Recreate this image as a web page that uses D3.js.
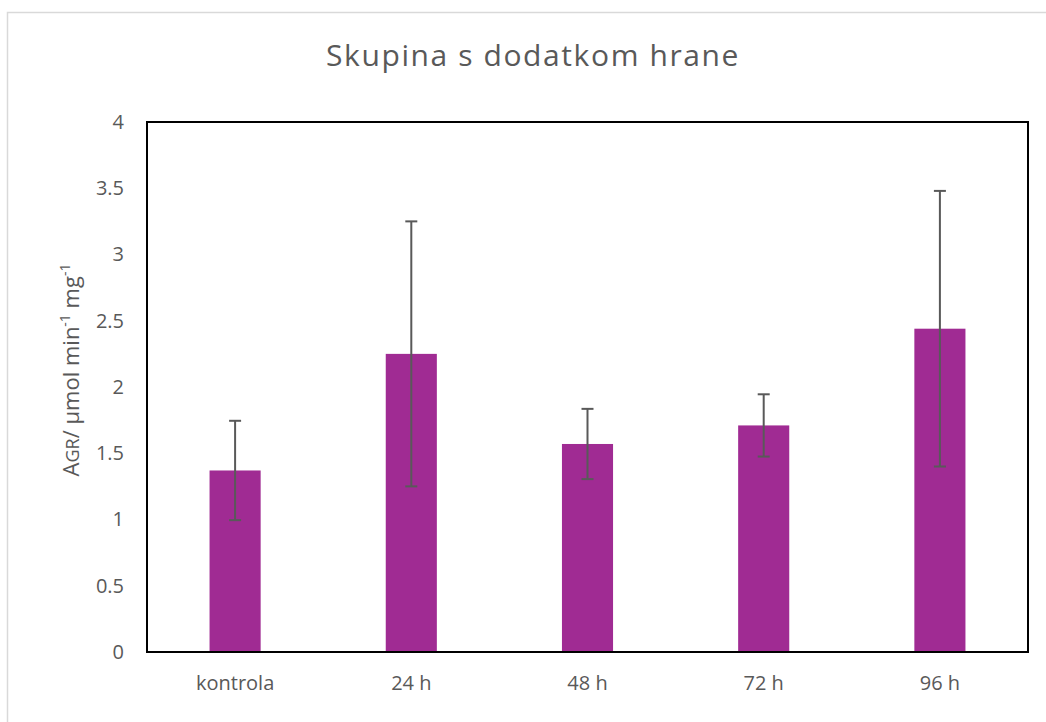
<!DOCTYPE html>
<html>
<head>
<meta charset="utf-8">
<script src="https://cdn.jsdelivr.net/npm/d3@7"></script>
<style>
  body { margin: 0; background: #fff; }
  text { font-family: "Open Sans", "Liberation Sans", sans-serif; fill: #595959; }
</style>
</head>
<body>
<svg id="chart" width="1046" height="722"></svg>
<script>
// values
var categories = ["kontrola", "24 h", "48 h", "72 h", "96 h"];
var means = [1.37, 2.25, 1.57, 1.71, 2.44];
var errors = [0.375, 1.0, 0.265, 0.235, 1.04];
var yTicks = [0, 0.5, 1, 1.5, 2, 2.5, 3, 3.5, 4];

var svg = d3.select("#chart");

// plot box
var plotLeft = 147, plotRight = 1028, plotTop = 122, plotBottom = 652;

var x = d3.scaleBand()
  .domain(categories)
  .range([plotLeft, plotRight])
  .paddingInner(0.71)
  .paddingOuter(0.355);

var y = d3.scaleLinear()
  .domain([0, 4])
  .range([plotBottom, plotTop]);

// outer chart frame
svg.append("rect")
  .attr("x", 7.5).attr("y", 12.5)
  .attr("width", 1100).attr("height", 800)
  .style("fill", "none")
  .style("stroke", "#d9d9d9")
  .style("stroke-width", 1.5);

// title
svg.append("text")
  .attr("x", 533).attr("y", 66)
  .attr("text-anchor", "middle")
  .style("font-size", "30px")
  .style("letter-spacing", "1.6px")
  .text("Skupina s dodatkom hrane");

// bars
svg.selectAll(".bar").data(means)
  .enter().append("rect")
  .attr("class", "bar")
  .attr("x", function(d, i) { return x(categories[i]); })
  .attr("width", x.bandwidth())
  .attr("y", function(d) { return y(d); })
  .attr("height", function(d) { return y(0) - y(d); })
  .style("fill", "#a02b93");

// error bars
var err = svg.selectAll(".err").data(means)
  .enter().append("g")
  .attr("class", "err")
  .style("stroke", "#595959")
  .style("stroke-width", 2);

err.append("line")
  .attr("x1", function(d, i) { return x(categories[i]) + x.bandwidth() / 2; })
  .attr("x2", function(d, i) { return x(categories[i]) + x.bandwidth() / 2; })
  .attr("y1", function(d, i) { return y(d + errors[i]); })
  .attr("y2", function(d, i) { return y(d - errors[i]); });

[1, -1].forEach(function(sign) {
  err.append("line")
    .attr("x1", function(d, i) { return x(categories[i]) + x.bandwidth() / 2 - 6; })
    .attr("x2", function(d, i) { return x(categories[i]) + x.bandwidth() / 2 + 6; })
    .attr("y1", function(d, i) { return y(d + sign * errors[i]); })
    .attr("y2", function(d, i) { return y(d + sign * errors[i]); });
});

// y axis labels
var yAxis = d3.axisLeft(y).tickValues(yTicks).tickSize(0).tickPadding(23)
  .tickFormat(function(d) { return String(d); });
var gy = svg.append("g").attr("transform", "translate(" + plotLeft + ",0)").call(yAxis);
gy.select(".domain").remove();
gy.selectAll("text")
  .style("font-size", "20px")
  .style("font-family", null)
  .style("fill", "#595959");

// x axis labels
var xAxis = d3.axisBottom(x).tickSize(0).tickPadding(24);
var gx = svg.append("g").attr("transform", "translate(0," + plotBottom + ")").call(xAxis);
gx.select(".domain").remove();
gx.selectAll("text")
  .style("font-size", "20px")
  .style("font-family", null)
  .style("fill", "#595959");

// plot border
svg.append("rect")
  .attr("x", plotLeft).attr("y", plotTop)
  .attr("width", plotRight - plotLeft).attr("height", plotBottom - plotTop)
  .style("fill", "none")
  .style("stroke", "#000")
  .style("stroke-width", 2);

// y axis title
var yt = svg.append("text")
  .attr("transform", "translate(79,370) rotate(-90)")
  .attr("text-anchor", "middle")
  .style("font-size", "22px");
yt.append("tspan").text("A");
yt.append("tspan").style("font-size", "18px").text("GR");
yt.append("tspan").text("/ µmol min");
yt.append("tspan").attr("dy", -9).style("font-size", "14px").text("-1");
yt.append("tspan").attr("dy", 9).text(" mg");
yt.append("tspan").attr("dy", -9).style("font-size", "14px").text("-1");
</script>
</body>
</html>
